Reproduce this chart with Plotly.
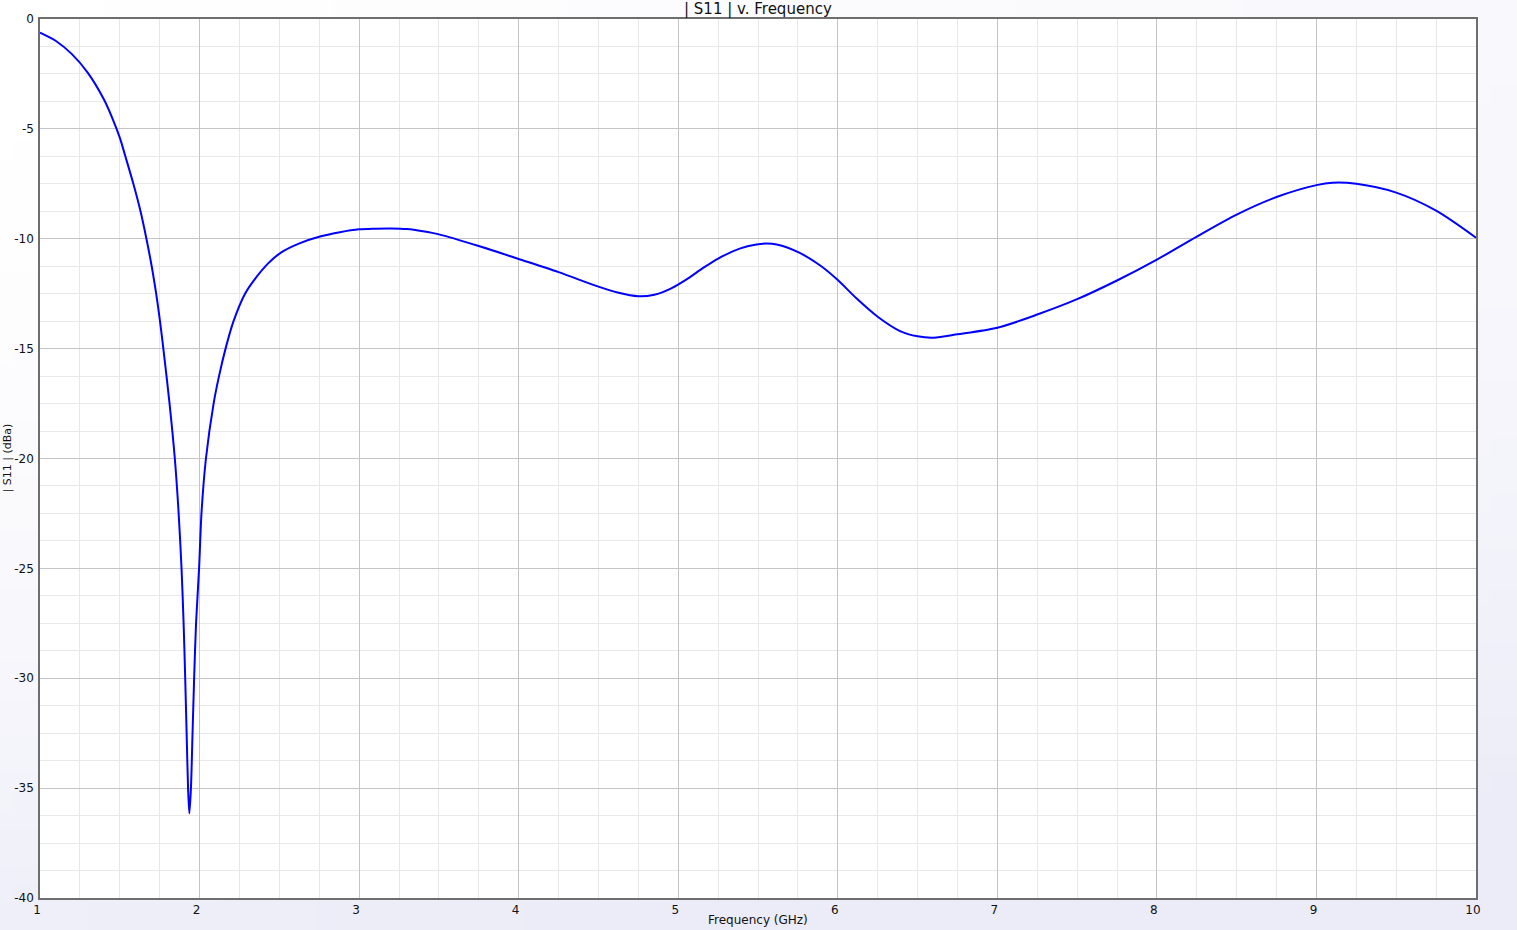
import base64, struct, zlib
import plotly.graph_objects as go

# ---- data ----
freq_ghz = [1.0, 1.1, 1.2, 1.3, 1.4, 1.45, 1.5, 1.535, 1.585, 1.63, 1.667, 1.70, 1.728, 1.752, 1.773,
            1.812, 1.845, 1.869, 1.887, 1.90, 1.91, 1.919, 1.928, 1.936, 1.946, 1.956, 1.966,
            1.978, 1.997, 2.012, 2.040, 2.088, 2.122, 2.163, 2.213, 2.285, 2.342, 2.43, 2.51,
            2.63, 2.755, 2.88, 3.0, 3.1, 3.2, 3.3, 3.4, 3.5, 3.75, 4.0, 4.25, 4.5, 4.62, 4.75,
            4.85, 4.95, 5.05, 5.15, 5.25, 5.385, 5.49, 5.55, 5.617, 5.755, 5.89, 6.0, 6.115,
            6.25, 6.39, 6.5, 6.6, 6.75, 7.0, 7.25, 7.5, 7.75, 8.0, 8.25, 8.5, 8.75, 9.0, 9.1,
            9.25, 9.5, 9.75, 10.0]
s11_db = [-0.62, -1.0, -1.6, -2.45, -3.65, -4.45, -5.4, -6.25, -7.5, -8.75, -10.0, -11.25, -12.5, -13.75, -15.0,
          -17.5, -20.0, -22.5, -25.0, -27.5, -30.0, -32.5, -35.0, -36.15, -35.0, -32.5, -30.0,
          -27.5, -25.0, -22.5, -20.0, -17.5, -16.25, -15.0, -13.75, -12.5, -11.88, -11.12, -10.63,
          -10.2, -9.9, -9.7, -9.57, -9.54, -9.53, -9.56, -9.66, -9.8, -10.33, -10.92, -11.52, -12.18,
          -12.45, -12.62, -12.55, -12.28, -11.86, -11.36, -10.9, -10.45, -10.26, -10.22, -10.26, -10.62,
          -11.22, -11.88, -12.7, -13.55, -14.2, -14.44, -14.5, -14.35, -14.05, -13.45, -12.75, -11.9,
          -10.95, -9.9, -8.9, -8.1, -7.56, -7.45, -7.5, -7.9, -8.72, -9.95]

x_tickvals = [1, 2, 3, 4, 5, 6, 7, 8, 9, 10]
x_ticktext = ["1", "2", "3", "4", "5", "6", "7", "8", "9", "10"]
y_tickvals = [0, -5, -10, -15, -20, -25, -30, -35, -40]
y_ticktext = ["0", "-5", "-10", "-15", "-20", "-25", "-30", "-35", "-40"]

title_text = "| S11 | v. Frequency"
x_title = "Frequency (GHz)"
y_title = "| S11 | (dBa)"

# ---- layout geometry ----
W, H = 1517, 930
L, R, T, B = 40, 41, 19, 32
PW, PH = W - L - R, H - T - B


def gradient_png(w, h):
    rows = []
    c0 = (255, 255, 255)
    c1 = (236, 236, 248)
    for j in range(h):
        row = bytearray([0])
        for i in range(w):
            t = (j / (h - 1)) ** 2 * 0.85 + 0.35 * (i / (w - 1))
            t = max(0.0, min(1.0, t))
            for k in range(3):
                row.append(int(round(c0[k] + (c1[k] - c0[k]) * t)))
        rows.append(bytes(row))
    raw = b"".join(rows)

    def chunk(tag, data):
        c = struct.pack(">I", len(data)) + tag + data
        return c + struct.pack(">I", zlib.crc32(tag + data) & 0xFFFFFFFF)

    png = b"\x89PNG\r\n\x1a\n"
    png += chunk(b"IHDR", struct.pack(">IIBBBBB", w, h, 8, 2, 0, 0, 0))
    png += chunk(b"IDAT", zlib.compress(raw, 9))
    png += chunk(b"IEND", b"")
    return "data:image/png;base64," + base64.b64encode(png).decode()


bg_src = gradient_png(80, 50)

font_family = "DejaVu Sans, Verdana, sans-serif"

fig = go.Figure()
fig.add_trace(go.Scatter(
    x=freq_ghz, y=s11_db, mode="lines",
    line=dict(color="#0000ff", width=2, shape="spline", smoothing=0.8),
    showlegend=False, hoverinfo="x+y",
))

axis_common = dict(
    showline=True, linecolor="#6e6e6e", linewidth=1.5, mirror=True,
    showgrid=True, gridcolor="#c4c4c4", gridwidth=1,
    zeroline=False, ticks="", automargin=False,
    tickfont=dict(family=font_family, size=12, color="#111111"),
)

fig.update_layout(
    width=W, height=H,
    margin=dict(l=L, r=R, t=T, b=B, pad=0),
    paper_bgcolor="#f4f4fb",
    plot_bgcolor="#ffffff",
    font=dict(family=font_family, color="#111111"),
    xaxis=dict(range=[1, 10], tickvals=x_tickvals, ticktext=x_ticktext,
               minor=dict(dtick=0.25, tick0=1, showgrid=True, gridcolor="#e8e8e8", gridwidth=1),
               ticklabelshift=-3,
               **axis_common),
    yaxis=dict(range=[-40, 0], tickvals=y_tickvals, ticktext=y_ticktext,
               minor=dict(dtick=1.25, tick0=0, showgrid=True, gridcolor="#e8e8e8", gridwidth=1),
               ticklabelstandoff=2,
               **axis_common),
    images=[dict(source=bg_src, xref="paper", yref="paper",
                 x=-L / PW, y=1 + T / PH, sizex=W / PW, sizey=H / PH,
                 xanchor="left", yanchor="top", sizing="stretch", layer="below")],
    shapes=[dict(type="rect", xref="paper", yref="paper", x0=0, x1=1, y0=0, y1=1,
                 fillcolor="#ffffff", line=dict(width=0), layer="below")],
    annotations=[
        dict(text=title_text, xref="paper", yref="paper", x=0.5, y=1 + 10 / PH,
             xanchor="center", yanchor="middle", showarrow=False,
             font=dict(family=font_family, size=15, color="#111111")),
        dict(text=x_title, xref="paper", yref="paper", x=0.5, y=-22 / PH,
             xanchor="center", yanchor="middle", showarrow=False,
             font=dict(family=font_family, size=12, color="#111111")),
        dict(text=y_title, xref="paper", yref="paper", x=-33 / PW, y=0.5,
             xanchor="center", yanchor="middle", showarrow=False, textangle=-90,
             font=dict(family=font_family, size=11, color="#111111")),
    ],
)

fig.write_html("out.html", config={"displayModeBar": False},
               post_script="document.body.style.margin='0px';document.body.style.overflow='hidden';")
